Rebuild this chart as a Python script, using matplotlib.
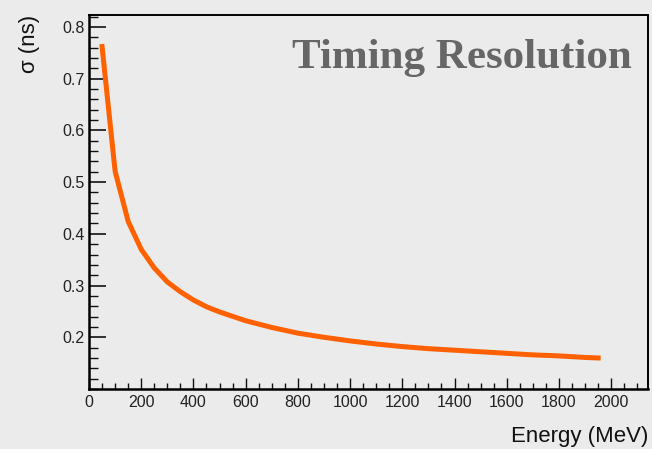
import numpy as np
import matplotlib.pyplot as plt
from matplotlib.ticker import MultipleLocator

# energy points (MeV) and timing resolution (ns)
energy = [50, 100, 150, 200, 250, 300, 350, 400, 450, 500, 600, 700, 800, 900,
          1000, 1100, 1200, 1300, 1400, 1500, 1600, 1700, 1800, 1900, 1950]
sigma = [0.762, 0.521, 0.424, 0.370, 0.334, 0.307, 0.288, 0.272, 0.259, 0.249,
         0.232, 0.219, 0.208, 0.200, 0.193, 0.187, 0.182, 0.178, 0.175, 0.172,
         0.169, 0.166, 0.164, 0.161, 0.160]

bg = '#ebebeb'
fig = plt.figure(figsize=(6.52, 4.49), dpi=100, facecolor=bg)
ax = fig.add_axes([0.1365, 0.1336, 0.857, 0.833])
ax.set_facecolor(bg)

ax.plot(energy, sigma, color='#ff6000', lw=3.6, solid_joinstyle='miter')

ax.set_xlim(0, 2140)
ax.set_ylim(0.1, 0.823)

ax.xaxis.set_major_locator(MultipleLocator(200))
ax.xaxis.set_minor_locator(MultipleLocator(50))
ax.yaxis.set_minor_locator(MultipleLocator(0.02))
ax.set_yticks([0.2, 0.3, 0.4, 0.5, 0.6, 0.7, 0.8])
ax.set_yticklabels(['0.2', '0.3', '0.4', '0.5', '0.6', '0.7', '0.8'])

ax.tick_params(axis='both', which='both', direction='in', colors='#111111',
               labelsize=11.5, labelcolor='#222222')
ax.tick_params(axis='y', which='major', length=12, width=1.2, pad=3)
ax.tick_params(axis='y', which='minor', length=6.5, width=1.0)
ax.tick_params(axis='x', which='major', length=8, width=1.0, pad=4)
ax.tick_params(axis='x', which='minor', length=4, width=1.0)
for lab in ax.get_xticklabels() + ax.get_yticklabels():
    lab.set_fontfamily('Liberation Sans')

for side in ['left', 'bottom']:
    ax.spines[side].set_linewidth(1.8)
for side in ['right', 'top']:
    ax.spines[side].set_linewidth(1.4)
for s in ax.spines.values():
    s.set_color('#000000')

fig.text(0.994, 0.027, 'Energy (MeV)', ha='right', va='center',
         fontsize=16, family='Liberation Sans', color='#111111')
fig.text(0.046, 0.967, 'σ (ns)', ha='center', va='top', rotation=90,
         fontsize=16, family='Liberation Sans', color='#111111')

ax.text(0.971, 0.858, 'Timing Resolution', transform=ax.transAxes,
        ha='right', va='baseline', fontsize=31, fontweight='bold',
        family='Liberation Serif', color='#666666')

fig.savefig('out.png', dpi=100, facecolor=bg)
